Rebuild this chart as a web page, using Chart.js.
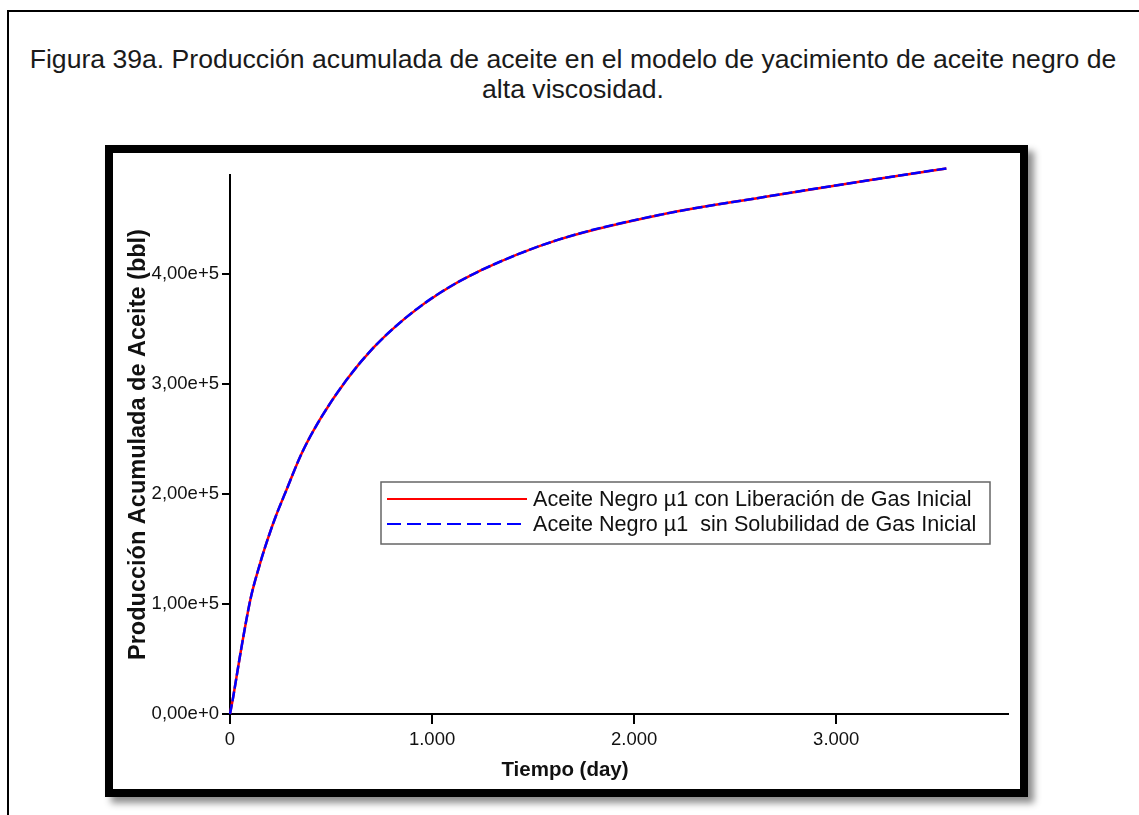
<!DOCTYPE html>
<html>
<head>
<meta charset="UTF-8">
<title>Figura 39a</title>
<script src="https://cdn.jsdelivr.net/npm/chart.js"></script>
<style>
    body { margin: 0; background: #fff; overflow: hidden; }
    #page {
        position: absolute; left: 7px; top: 10px;
        width: 1150px; height: 900px;
        border: 2px solid #000;
    }
    #caption {
        position: absolute; left: 7px; top: 44px; width: 1132px;
        text-align: center;
        font-family: "Liberation Sans", Arial, sans-serif;
        font-size: 26.6px; line-height: 30px; color: #1a1a1a;
    }
    #frame {
        position: absolute; left: 105px; top: 145px;
        width: 907px; height: 636px;
        border: 8px solid #000;
        box-shadow: 6px 6px 7px rgba(0,0,0,0.45);
        background: #fff;
    }
</style>
</head>
<body>
<div id="page"></div>
<div id="caption">Figura 39a. Producción acumulada de aceite en el modelo de yacimiento de aceite negro de<br>alta viscosidad.</div>
<div id="frame"><canvas id="myChart" width="907" height="636"></canvas></div>

<script>
    // values
    const days = [0, 16, 53, 102, 149, 185, 223, 280, 355, 446, 578, 710, 875, 1040, 1238, 1622, 2133, 2643, 3153, 3545];
    const conLiberacion = [0, 15700, 56600, 105000, 137000, 158000, 178000, 204000, 237000, 268000, 304000, 333000, 361000, 383000, 403000, 431000, 454000, 470000, 485000, 496000];
    const sinSolubilidad = [0, 15700, 56600, 105000, 137000, 158000, 178000, 204000, 237000, 268000, 304000, 333000, 361000, 383000, 403000, 431000, 454000, 470000, 485000, 496000];

    const seriesNames = ['Aceite Negro µ1 con Liberación de Gas Inicial', 'Aceite Negro µ1  sin Solubilidad de Gas Inicial'];

    const xTicks = [0, 1000, 2000, 3000];
    const xTickLabels = ['0', '1.000', '2.000', '3.000'];
    const yTicks = [0, 100000, 200000, 300000, 400000];
    const yTickLabels = ['0,00e+0', '1,00e+5', '2,00e+5', '3,00e+5', '4,00e+5'];

    const xTitle = 'Tiempo (day)';
    const yTitle = 'Producción Acumulada de Aceite (bbl)';

    const FONT = '"Liberation Sans", Arial, sans-serif';

    const toPoints = (xs, ys) => xs.map((x, i) => ({ x: x, y: ys[i] }));

    // legend box and x title drawn by hand, like the original figure
    const figureExtras = {
        id: 'figureExtras',
        afterDraw(chart) {
            const ctx = chart.ctx;
            ctx.save();

            // x axis title
            ctx.fillStyle = '#111';
            ctx.font = 'bold 20.5px ' + FONT;
            ctx.textAlign = 'center';
            ctx.textBaseline = 'middle';
            ctx.fillText(xTitle, 452, 617);

            // legend
            const bx = 268, by = 329, bw = 609, bh = 62;
            ctx.fillStyle = '#fff';
            ctx.fillRect(bx, by, bw, bh);
            ctx.strokeStyle = '#666';
            ctx.lineWidth = 1.5;
            ctx.strokeRect(bx, by, bw, bh);

            const rows = [346, 371];
            chart.data.datasets.forEach((ds, i) => {
                ctx.beginPath();
                ctx.strokeStyle = ds.borderColor;
                ctx.lineWidth = 2;
                ctx.setLineDash(i === 1 ? [14, 6] : []);
                ctx.moveTo(274, rows[i]);
                ctx.lineTo(414, rows[i]);
                ctx.stroke();
                ctx.setLineDash([]);

                ctx.fillStyle = '#111';
                ctx.font = '21.6px ' + FONT;
                ctx.textAlign = 'left';
                ctx.textBaseline = 'middle';
                ctx.fillText(ds.label, 420, rows[i] + 1);
            });
            ctx.restore();
        }
    };

    const chartCanvas = document.getElementById('myChart');

    new Chart(chartCanvas, {
        type: 'line',
        data: {
            datasets: [
                {
                    label: seriesNames[0],
                    data: toPoints(days, conLiberacion),
                    borderColor: '#ff0000',
                    borderWidth: 2.5,
                    pointRadius: 0,
                    cubicInterpolationMode: 'monotone',
                    clip: false,
                    order: 2
                }, {
                    label: seriesNames[1],
                    data: toPoints(days, sinSolubilidad),
                    borderColor: '#0000ff',
                    borderWidth: 2.5,
                    borderDash: [10, 3],
                    pointRadius: 0,
                    cubicInterpolationMode: 'monotone',
                    clip: false,
                    order: 1
                }
            ]
        },
        options: {
            responsive: false,
            animation: false,
            layout: { padding: { top: 22, right: 12, left: 0, bottom: 0 } },
            scales: {
                x: {
                    type: 'linear',
                    min: 0,
                    max: 3850,
                    afterBuildTicks: (scale) => { scale.ticks = xTicks.map(v => ({ value: v })); },
                    afterFit: (scale) => { scale.height = 75; },
                    ticks: {
                        callback: (value, index) => xTickLabels[index],
                        font: { family: FONT, size: 18.5 },
                        color: '#111',
                        padding: 5,
                        maxRotation: 0
                    },
                    grid: {
                        drawOnChartArea: false,
                        tickLength: 10,
                        tickColor: '#000',
                        lineWidth: 2
                    },
                    border: { color: '#000', width: 2 }
                },
                y: {
                    type: 'linear',
                    min: 0,
                    max: 490000,
                    afterBuildTicks: (scale) => { scale.ticks = yTicks.map(v => ({ value: v })); },
                    afterFit: (scale) => { scale.width = 117; },
                    ticks: {
                        callback: (value, index) => yTickLabels[index],
                        font: { family: FONT, size: 18.5 },
                        color: '#111',
                        padding: 3
                    },
                    grid: {
                        drawOnChartArea: false,
                        tickLength: 8,
                        tickColor: '#000',
                        lineWidth: 2
                    },
                    border: { color: '#000', width: 2 },
                    title: {
                        display: true,
                        text: yTitle,
                        color: '#111',
                        font: { family: FONT, size: 23.5, weight: 'bold' },
                        padding: { top: 11, bottom: 0 }
                    }
                }
            },
            plugins: {
                legend: { display: false },
                tooltip: { enabled: false }
            }
        },
        plugins: [figureExtras]
    });
</script>
</body>
</html>
